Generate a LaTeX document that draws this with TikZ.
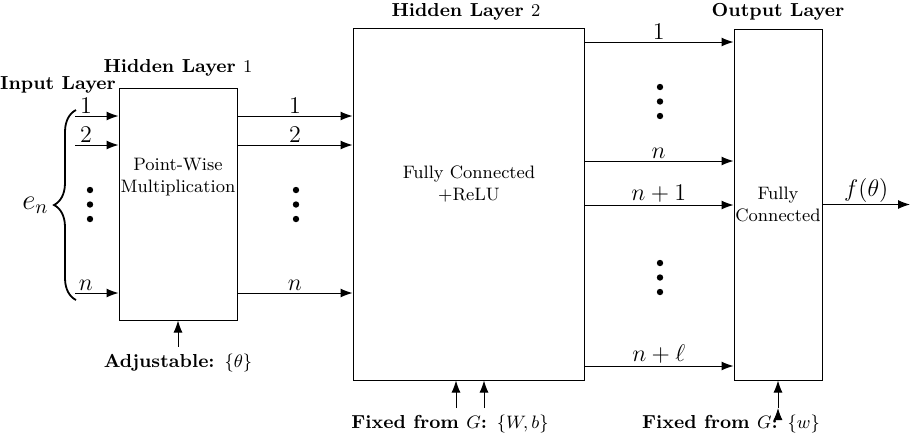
\documentclass[tikz,border=0pt]{standalone}
\usepackage{amsmath}
\usepackage{amssymb}
\usepackage{tikz}
\usetikzlibrary{shapes, arrows.meta, positioning, decorations.pathreplacing}
\tikzstyle{->}   = [draw, -{Latex[length=6pt, width=4.5pt]}]
\tikzstyle{box}  = [draw, rectangle, inner sep=0pt]
\tikzstyle{txt}  = [font=\small, align=center]
\tikzstyle{lbl}  = [font=\fontsize{9.4}{11}\selectfont\bfseries]
\tikzstyle{num}  = [font=\fontsize{12.7}{15}\selectfont, inner sep=1pt]

\begin{document}
\begin{tikzpicture}[auto, x=0.5pt, y=-0.5pt, line width=0.5pt]
\useasboundingbox (0,0) rectangle (916,436);

% nodes
\node [box, minimum width=59pt,    minimum height=116pt]   at ( 178 , 204 )   (hl1) {};
\node [box, minimum width=115.5pt, minimum height=176pt]   at ( 468.5 , 204 ) (hl2) {};
\node [box, txt, minimum width=44pt, minimum height=175.5pt] at ( 778 , 204.5 ) (out) {Fully\\Connected};

\node [txt] at ( 178 , 177 ) (pw) {Point-Wise\\Multiplication};
\node [txt] at ( 469 , 184 ) (fc) {Fully Connected\\+ReLU};

\node [lbl] at (  58 ,  85 ) (tin)  {Input Layer};
\node [lbl] at ( 178 ,  68 ) (th1)  {Hidden Layer $1$};
\node [lbl] at ( 466 ,  12 ) (th2)  {Hidden Layer $2$};
\node [lbl] at ( 778 ,  12 ) (tout) {Output Layer};

\node [lbl] at ( 178 , 363 ) (adj)  {Adjustable: $\{\theta\}$};
\node [lbl] at ( 450 , 424 ) (fix2) {Fixed from $G$: $\{W,b\}$};
\node [lbl] at ( 731 , 424 ) (fix3) {Fixed from $G$: $\{w\}$};

% free ends
\coordinate (i1) at (  75 , 116 );
\coordinate (i2) at (  75 , 145 );
\coordinate (in) at (  75 , 293 );
\coordinate (o1) at ( 584 ,  42 );
\coordinate (on) at ( 584 , 161 );
\coordinate (om) at ( 584 , 205 );
\coordinate (ol) at ( 584 , 366 );
\coordinate (f)  at ( 910 , 204.5 );
\coordinate (w1) at ( 456 , 408 );
\coordinate (w2) at ( 484 , 408 );
\coordinate (w3) at ( 778 , 408 );

% edges
\path [->]
  (i1) edge node [num, above, pos=0.25] {$1$} (i1 -| hl1.west)
  (i2) edge node [num, above, pos=0.25] {$2$} (i2 -| hl1.west)
  (in) edge node [num, above, pos=0.25] {$n$} (in -| hl1.west)

  (hl1.east |- i1) edge node [num, above] {$1$} (i1 -| hl2.west)
  (hl1.east |- i2) edge node [num, above] {$2$} (i2 -| hl2.west)
  (hl1.east |- in) edge node [num, above] {$n$} (in -| hl2.west)

  (o1) edge node [num, above] {$1$}          (o1 -| out.west)
  (on) edge node [num, above] {$n$}          (on -| out.west)
  (om) edge node [num, above] {$n+1$}        (om -| out.west)
  (ol) edge node [num, above] {$n+\ell$}     (ol -| out.west)

  (out.east) edge node [num, above] {$f(\theta)$} (f)

  (adj) edge (hl1)
  (w1)  edge (w1 |- hl2.south)
  (w2)  edge (w2 |- hl2.south)
  (w3)  edge (out.south);

% brace
\draw [decorate, decoration={brace, amplitude=11pt}, line width=0.9pt]
  (76,300) -- (76,110) node [midway, left=10pt, font=\Large] (en) {$e_n$};

% dots
\foreach \x/\y in {90/190, 296/190, 660/87, 660/263}
  \foreach \d in {0, 14.5, 29}
    \fill (\x, \y+\d) circle (1.6pt);

\end{tikzpicture}
\end{document}
